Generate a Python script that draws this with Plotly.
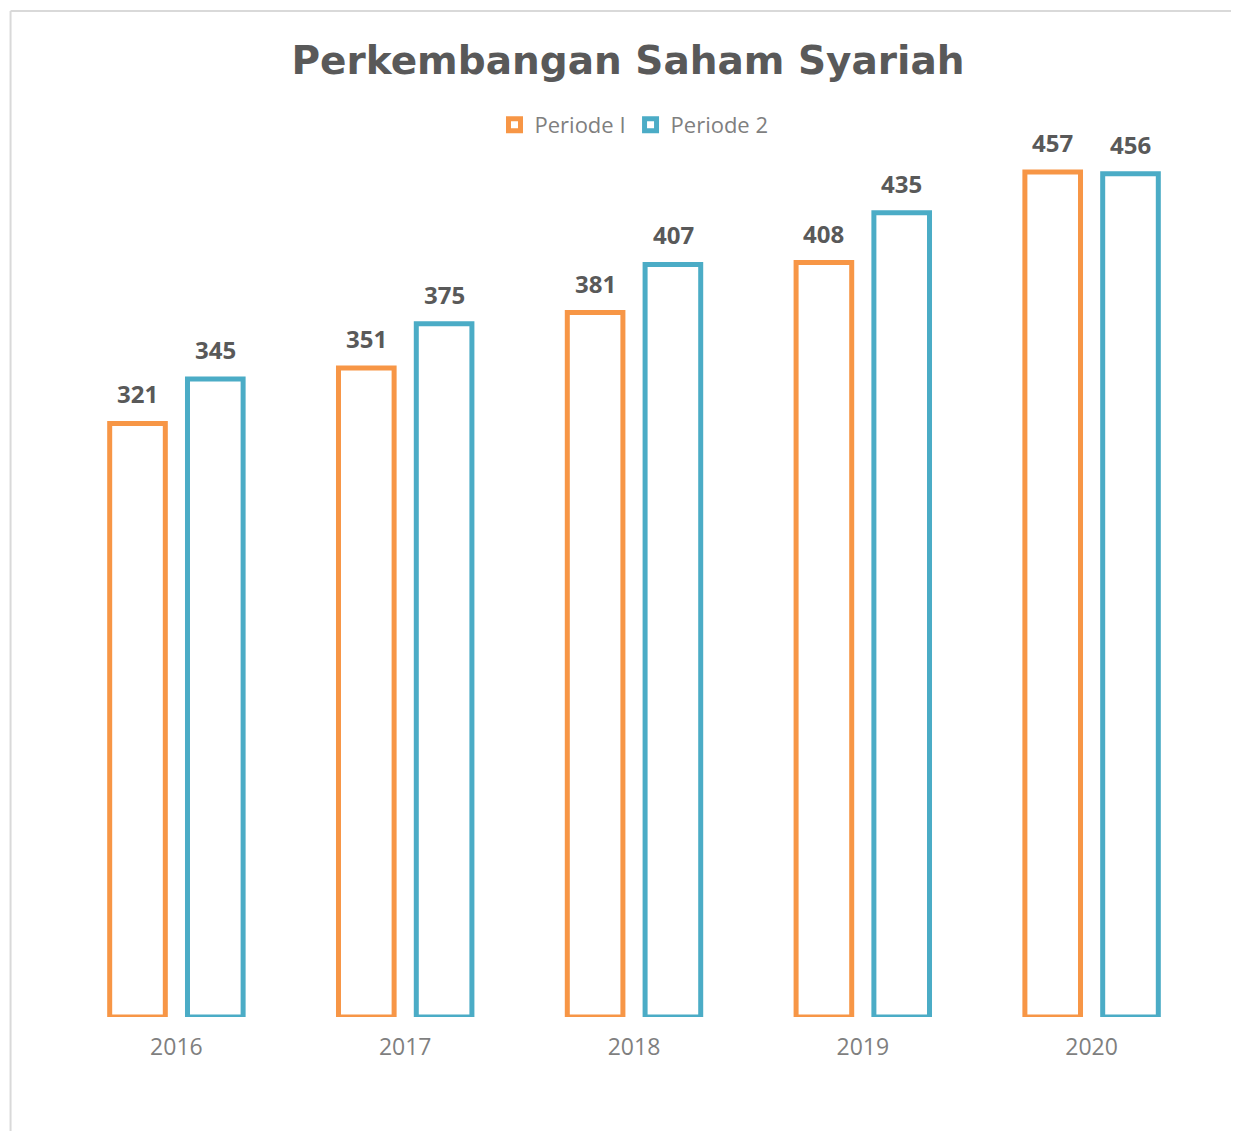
import plotly.graph_objects as go

years = ["2016", "2017", "2018", "2019", "2020"]
periode1 = [321, 351, 381, 408, 457]
periode2 = [345, 375, 407, 435, 456]

OFF = 8  # page body margin
W, H = 1239 - OFF, 1131 - OFF
L, R, T, B = 53.5, 32.5, 132, 114
pw, ph = W - L - R, H - T - B

def px_x(x):  # page pixel -> paper
    return (x - OFF - L) / pw

def px_y(y):
    return (H - B - (y - OFF)) / ph

FONT = "Open Sans, Lato, DejaVu Sans"
lab_font = dict(family=FONT, size=24, color="#595959")

fig = go.Figure()
fig.add_bar(name="Periode I", x=years, y=periode1,
            marker=dict(color="white", line=dict(color="#F79646", width=5)))
fig.add_bar(name="Periode 2", x=years, y=periode2,
            marker=dict(color="white", line=dict(color="#4BACC6", width=5)))

# category index positions for the value labels
for i, v in enumerate(periode1):
    fig.add_annotation(x=i, y=v, text=f"<b>{v}</b>", showarrow=False,
                       xshift=-39, yshift=11, yanchor="bottom", font=lab_font)
for i, v in enumerate(periode2):
    fig.add_annotation(x=i, y=v, text=f"<b>{v}</b>", showarrow=False,
                       xshift=39, yshift=11, yanchor="bottom", font=lab_font)

fig.update_layout(
    width=W, height=H,
    margin=dict(l=L, r=R, t=T, b=B),
    paper_bgcolor="white", plot_bgcolor="white",
    barmode="group", bargap=0.32, bargroupgap=0.285,
    title=dict(text="<b>Perkembangan Saham Syariah</b>", x=(628 - OFF) / W, xanchor="center",
               y=1 - (60 - OFF) / H, yanchor="middle",
               font=dict(family="DejaVu Sans", size=39, color="#595959")),
    legend=dict(orientation="h", x=px_x(634), xanchor="center", y=px_y(125), yanchor="middle",
                font=dict(family=FONT, size=22, color="#7F7F7F"),
                itemwidth=30, traceorder="normal"),
    xaxis=dict(type="category", range=[-0.5, len(years) - 0.5],
               showgrid=False, showline=False, ticks="", zeroline=False,
               ticklabelstandoff=14,
               tickfont=dict(family=FONT, size=23, color="#7F7F7F")),
    yaxis=dict(range=[0, (H - B - T) / 1.849], visible=False, showgrid=False),
)

line = dict(color="#D9D9D9", width=2)
fig.add_shape(type="line", xref="paper", yref="paper", x0=px_x(10), x1=px_x(1245),
              y0=px_y(11), y1=px_y(11), line=line)
fig.add_shape(type="line", xref="paper", yref="paper", x0=px_x(10), x1=px_x(10),
              y0=px_y(11), y1=px_y(1140), line=line)

fig.write_html("out.html")
